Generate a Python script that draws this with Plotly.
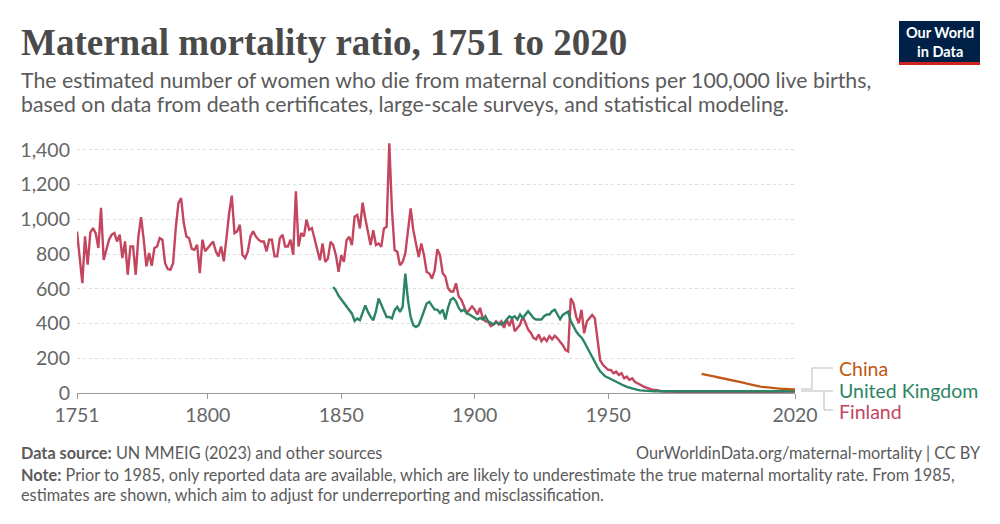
import plotly.graph_objects as go

# ---------------- data ----------------
finland_start = 1751
finland = [
    930, 780, 633, 902, 739, 925, 950, 921, 835, 1066,
    767, 825, 883, 912, 921, 873, 912, 777, 873, 681,
    844, 844, 681, 902, 1013, 883, 729, 806, 733, 835,
    844, 892, 883, 748, 714, 710, 748, 950, 1094, 1123,
    979, 902, 892, 830, 825, 854, 691, 883, 816, 835,
    854, 873, 816, 787, 844, 758, 892, 1037, 1137, 921,
    931, 969, 796, 777, 816, 902, 931, 902, 883, 873,
    873, 816, 883, 883, 787, 787, 892, 912, 844, 844,
    883, 796, 1162, 844, 921, 902, 998, 940, 950, 890,
    830, 765, 861, 755, 775, 871, 852, 794, 698, 794,
    755, 880, 900, 852, 1015, 1025, 948, 1096, 1005, 938,
    852, 938, 852, 861, 842, 948, 957, 1438, 1053, 823,
    813, 736, 755, 804, 938, 1063, 938, 861, 784, 861,
    794, 698, 688, 659, 707, 828, 794, 690, 671, 604,
    585, 585, 632, 556, 537, 499, 461, 480, 499, 480,
    452, 490, 432, 413, 413, 385, 394, 413, 394, 413,
    375, 423, 385, 432, 356, 375, 394, 442, 404, 366,
    347, 318, 309, 337, 299, 318, 299, 328, 309, 330,
    315, 295, 275, 248, 239, 546, 517, 440, 402, 479,
    344, 412, 431, 450, 431, 325, 190, 162, 148, 133,
    133, 114, 123, 104, 114, 85, 94, 75, 85, 65,
    56, 46, 40, 33, 27, 21, 17, 17, 12, 10,
    9, 10, 8, 9, 7, 8, 9, 7, 8, 6,
    7, 6, 8, 6, 6, 5, 6, 5, 5, 6,
    5, 5, 5, 5, 4, 5, 5, 5, 5, 5,
    5, 5, 5, 5, 5, 5, 5, 5, 5, 6,
    6, 6, 6, 7, 7, 7, 7, 8, 8, 8,
]

uk_start = 1847
uk = [
    611, 590, 560, 540, 520, 500, 477, 457, 415, 429,
    419, 467, 505, 467, 438, 419, 470, 544, 505, 467,
    438, 438, 429, 477, 496, 467, 496, 688, 534, 438,
    390, 380, 390, 429, 477, 515, 525, 505, 480, 480,
    461, 480, 423, 490, 537, 547, 528, 490, 471, 480,
    461, 452, 442, 432, 423, 432, 423, 442, 413, 404,
    394, 404, 404, 394, 404, 423, 442, 432, 442, 423,
    452, 432, 452, 471, 452, 432, 423, 423, 423, 442,
    452, 452, 471, 480, 455, 425, 450, 460, 469, 415,
    385, 355, 335, 320, 295, 265, 235, 205, 180, 150,
    125, 110, 95, 88, 80, 70, 62, 56, 48, 42,
    35, 30, 25, 20, 18, 15, 13, 12, 11, 11,
    10, 10, 9, 9, 9, 9, 8, 8, 8, 8,
    8, 8, 8, 8, 7, 7, 7, 7, 8, 8,
    8, 8, 8, 8, 8, 8, 8, 8, 8, 8,
    8, 9, 9, 9, 9, 9, 10, 10, 10, 10,
    10, 10, 10, 10, 10, 10, 10, 10, 10, 10,
    10, 10, 10, 10,
]

china_start = 1985
china = [
    110, 106, 103, 100, 97, 94, 91, 88, 85, 83,
    80, 76, 73, 69, 65, 62, 58, 54, 50, 47,
    43, 40, 37, 35, 33, 31, 29, 27, 26, 25,
    24, 24, 23, 22, 22, 21,
]

x_ticks = [1751, 1800, 1850, 1900, 1950, 2020]
y_ticks = [0, 200, 400, 600, 800, 1000, 1200, 1400]

series = [
    ("Finland", finland_start, finland, "#C4455E"),
    ("United Kingdom", uk_start, uk, "#2C8465"),
    ("China", china_start, china, "#C05917"),
]

# ---------------- layout helpers (screen pixel -> paper) ----------------
OFF = 8                      # page body margin
W, H = 1000 - 2 * OFF, 524 - 2 * OFF
L = 77 - OFF
T = 143 - OFF
R = W - (795 - OFF)
B = H - (393 - OFF)
PW, PH = W - L - R, H - T - B


def px(x):
    return (x - OFF - L) / PW


def py(y):
    return (H - B - (y - OFF)) / PH


FONT = "Lato, 'Noto Sans', sans-serif"
GREY = "#5b5b5b"

fig = go.Figure()
for name, start, vals, color in series:
    fig.add_trace(go.Scatter(
        x=list(range(start, start + len(vals))), y=vals, mode="lines",
        name=name, line=dict(color=color, width=2.4), showlegend=False,
        hoverinfo="skip",
    ))

annotations = []
shapes = []


def text(t, x, y, size, color=GREY, xanchor="left", yanchor="middle", family=FONT):
    annotations.append(dict(
        text=t, xref="paper", yref="paper", x=px(x), y=py(y), xanchor=xanchor,
        yanchor=yanchor, showarrow=False, align="left",
        font=dict(family=family, size=size, color=color),
    ))


# Title, subtitle
text("<b>Maternal mortality ratio, 1751 to 2020</b>", 19, 42, 37,
     color="#4a4a4a", family="'Liberation Serif', serif")
text("The estimated number of women who die from maternal conditions per 100,000 live births,",
     19, 80, 21.3)
text("based on data from death certificates, large-scale surveys, and statistical modeling.",
     19, 104, 21.3)

# Footer
text("<b>Data source:</b> UN MMEIG (2023) and other sources", 19, 452, 16.3)
text("OurWorldinData.org/maternal-mortality | CC BY", 983, 452, 16.3, xanchor="right")
text("<b>Note:</b> Prior to 1985, only reported data are available, which are likely to underestimate "
     "the true maternal mortality rate. From 1985,", 19, 474, 16.3)
text("estimates are shown, which aim to adjust for underreporting and misclassification.",
     19, 494, 16.3)

# Logo
shapes.append(dict(type="rect", xref="paper", yref="paper", x0=px(899), x1=px(980),
                   y0=py(62), y1=py(21), fillcolor="#002147", line=dict(width=0), layer="above"))
shapes.append(dict(type="rect", xref="paper", yref="paper", x0=px(899), x1=px(980),
                   y0=py(65), y1=py(62), fillcolor="#CE261E", line=dict(width=0), layer="above"))
annotations.append(dict(
    text="<b>Our World<br>in Data</b>", xref="paper", yref="paper", x=px(939.5), y=py(41.5),
    xanchor="center", yanchor="middle", showarrow=False, align="center",
    font=dict(family=FONT, size=14.5, color="white"),
))

# Line labels with connectors
labels = [("China", "#C05917", 368), ("United Kingdom", "#2C8465", 390), ("Finland", "#C4455E", 411)]
for t, color, ypix in labels:
    text(t, 837, ypix, 19.5, color=color)
conn = dict(color="#bbbbbb", width=1)
shapes.append(dict(type="path", xref="paper", yref="paper",
                   path=f"M {px(801)},{py(389)} L {px(812)},{py(389)} L {px(812)},{py(368)} L {px(833)},{py(368)}",
                   line=conn))
shapes.append(dict(type="path", xref="paper", yref="paper",
                   path=f"M {px(801)},{py(391)} L {px(833)},{py(391)}", line=conn))
shapes.append(dict(type="path", xref="paper", yref="paper",
                   path=f"M {px(824)},{py(391)} L {px(824)},{py(410)} L {px(833)},{py(410)}",
                   line=conn))

fig.update_layout(
    width=W, height=H,
    margin=dict(l=L, r=R, t=T, b=B),
    paper_bgcolor="white", plot_bgcolor="white",
    annotations=annotations, shapes=shapes,
    font=dict(family=FONT),
    xaxis=dict(
        range=[1751, 2020], tickvals=x_ticks, ticktext=[str(v) for v in x_ticks],
        showgrid=False, zeroline=False, showline=True, linecolor="#999999", linewidth=1,
        ticks="outside", ticklen=5, tickcolor="#999999",
        tickfont=dict(family=FONT, size=19.5, color="#666666"),
    ),
    yaxis=dict(
        range=[0, 1440], tickvals=y_ticks, tickformat=",d",
        showgrid=True, gridcolor="#dddddd", griddash="dot", gridwidth=1,
        zeroline=False, showline=False, ticks="",
        ticklabelstandoff=6,
        tickfont=dict(family=FONT, size=19.5, color="#666666"),
    ),
)

fig.write_html("out.html", config={"displayModeBar": False})
